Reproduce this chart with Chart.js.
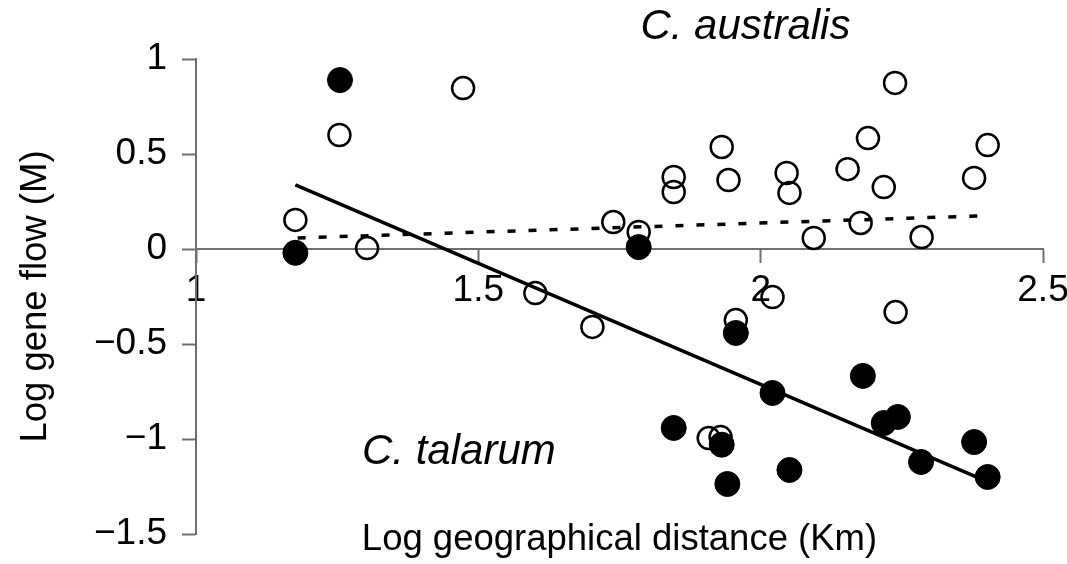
<!DOCTYPE html>
<html>
<head>
<meta charset="utf-8">
<title>Log gene flow vs log geographical distance</title>
<script src="https://cdn.jsdelivr.net/npm/chart.js@4.4.1/dist/chart.umd.min.js"></script>
<style>
  html, body { margin: 0; padding: 0; background: #fff; }
  canvas { display: block; }
</style>
</head>
<body>
<canvas id="geneFlowChart" width="1067" height="564"></canvas>
<script>
    // Open circles (C. australis)
    const australisX = [1.473, 1.254, 1.176, 1.303, 1.739, 1.784, 1.846, 1.846, 1.931, 1.943,
                        2.046, 2.051, 2.094, 2.154, 2.177, 2.190, 2.238, 2.218, 2.285, 2.378,
                        2.402, 1.601, 1.702, 2.021, 1.956, 2.239, 1.908, 1.929];
    const australisY = [0.847, 0.600, 0.153, 0.005, 0.142, 0.090, 0.379, 0.300, 0.537, 0.363,
                        0.400, 0.295, 0.058, 0.420, 0.137, 0.584, 0.874, 0.326, 0.063, 0.374,
                        0.547, -0.232, -0.410, -0.253, -0.374, -0.332, -0.995, -0.990];

    // Filled circles (C. talarum)
    const talarumX = [1.255, 1.176, 1.784, 1.956, 2.181, 2.021, 1.846, 1.931, 1.941, 2.051,
                      2.218, 2.243, 2.284, 2.378, 2.402];
    const talarumY = [0.889, -0.020, 0.010, -0.442, -0.668, -0.758, -0.942, -1.030, -1.237, -1.163,
                      -0.916, -0.884, -1.121, -1.016, -1.200];

    // Regression lines (end points)
    const australisFitX = [1.18, 2.387];
    const australisFitY = [0.058, 0.174];
    const talarumFitX = [1.176, 2.39];
    const talarumFitY = [0.337, -1.21];

    // Tick labels
    const xTicks = [1, 1.5, 2, 2.5];
    const yTicks = [-1.5, -1, -0.5, 0, 0.5, 1];

    function toPoints(xs, ys) {
      return xs.map((x, i) => ({ x: x, y: ys[i] }));
    }

    const FONT = '"Liberation Sans", Arial, Helvetica, sans-serif';
    const AXIS_GREY = '#6f6f6f';

    // Italic species names
    const speciesLabels = {
      id: 'speciesLabels',
      afterDatasetsDraw(chart) {
        const { ctx, scales: { x, y } } = chart;
        ctx.save();
        ctx.font = 'italic 42px ' + FONT;
        ctx.fillStyle = '#000';
        ctx.textBaseline = 'middle';
        ctx.textAlign = 'left';
        ctx.fillText('C. australis', x.getPixelForValue(1.787), y.getPixelForValue(1.168));
        ctx.fillText('C. talarum', x.getPixelForValue(1.294), y.getPixelForValue(-1.068));
        ctx.restore();
      }
    };

    Chart.defaults.font.family = FONT;
    Chart.defaults.color = '#000';

    const ctx = document.getElementById('geneFlowChart').getContext('2d');
    const geneFlowChart = new Chart(ctx, {
      type: 'scatter',
      data: {
        datasets: [
          {
            label: 'C. talarum fit',
            data: toPoints(talarumFitX, talarumFitY),
            showLine: true,
            borderColor: '#000',
            borderWidth: 3.5,
            pointRadius: 0
          },
          {
            label: 'C. australis fit',
            data: toPoints(australisFitX, australisFitY),
            showLine: true,
            borderColor: '#000',
            borderWidth: 3.5,
            borderDash: [8, 13],
            pointRadius: 0
          },
          {
            label: 'C. talarum',
            data: toPoints(talarumX, talarumY),
            pointRadius: 12.5,
            pointBackgroundColor: '#000',
            pointBorderColor: '#000',
            pointBorderWidth: 1
          },
          {
            label: 'C. australis',
            data: toPoints(australisX, australisY),
            pointRadius: 11,
            pointBackgroundColor: 'rgba(0,0,0,0)',
            pointBorderColor: '#000',
            pointBorderWidth: 2.5
          }
        ]
      },
      options: {
        responsive: false,
        animation: false,
        layout: {
          padding: { top: 59, right: 24, bottom: 0, left: 0 }
        },
        plugins: {
          legend: { display: false },
          tooltip: { enabled: false }
        },
        scales: {
          x: {
            type: 'linear',
            position: { y: 0 },
            min: 1,
            max: 2.5,
            afterBuildTicks: (scale) => { scale.ticks = xTicks.map(v => ({ value: v })); },
            afterFit: (scale) => {
              scale.height = 0;
              scale.paddingLeft = 0;
              scale.paddingRight = 0;
            },
            grid: {
              drawOnChartArea: false,
              drawTicks: true,
              tickLength: 13,
              tickWidth: 2,
              tickColor: AXIS_GREY
            },
            border: { display: true, color: AXIS_GREY, width: 2 },
            ticks: {
              padding: 7,
              maxRotation: 0,
              font: { size: 37 },
              callback: (v) => String(v)
            }
          },
          xTitle: {
            type: 'linear',
            position: 'bottom',
            axis: 'x',
            min: 1,
            max: 2.5,
            afterFit: (scale) => {
              scale.height = 30;
              scale.paddingLeft = 0;
              scale.paddingRight = 0;
            },
            grid: { display: false },
            border: { display: false },
            ticks: { display: false },
            title: {
              display: true,
              text: 'Log geographical distance (Km)',
              font: { size: 36.5 },
              padding: { top: 0, bottom: 2 }
            }
          },
          y: {
            type: 'linear',
            min: -1.5,
            max: 1,
            afterBuildTicks: (scale) => { scale.ticks = yTicks.map(v => ({ value: v })); },
            afterFit: (scale) => {
              scale.width = 196;
              scale.paddingTop = 0;
              scale.paddingBottom = 0;
            },
            grid: {
              drawOnChartArea: false,
              drawTicks: true,
              tickLength: 14,
              tickWidth: 2,
              tickColor: AXIS_GREY
            },
            border: { display: true, color: AXIS_GREY, width: 2 },
            ticks: {
              padding: 15,
              font: { size: 37 },
              callback: (v) => String(v).replace('-', '\u2212')
            },
            title: {
              display: true,
              text: 'Log gene flow (M)',
              font: { size: 36.5 },
              padding: { top: 14, bottom: 0 }
            }
          }
        }
      },
      plugins: [speciesLabels]
    });
</script>
</body>
</html>
